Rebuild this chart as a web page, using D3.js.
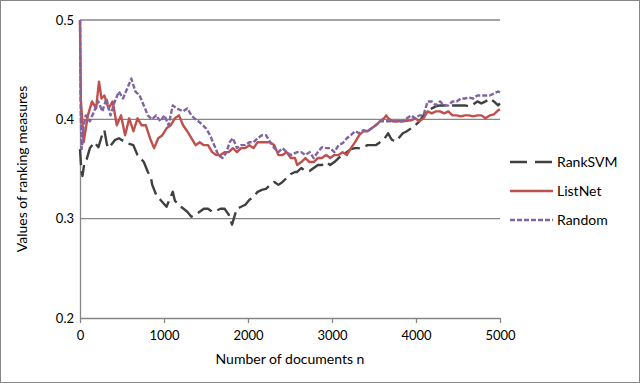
<!DOCTYPE html>
<html>
<head>
<meta charset="utf-8">
<script src="https://cdn.jsdelivr.net/npm/d3@7"></script>
<style>
  body { margin: 0; background: #fff; }
  svg { display: block; font-family: Lato, "Open Sans", sans-serif; }
</style>
</head>
<body>
<svg width="640" height="383"></svg>
<script>
// values
const rankDocs = [0,15,30,50,80,118,170,220,266,290,320,340,414,463,560,635,685,760,808,845,860,907,956,1030,1104,1130,1203,1277,1326,1376,1425,1474,1524,1573,1622,1672,1721,1770,1810,1845,1869,1918,1968,2017,2066,2115,2165,2214,2263,2313,2362,2411,2460,2510,2560,2585,2634,2683,2733,2782,2831,2880,2930,2979,3028,3078,3127,3176,3225,3275,3324,3373,3423,3472,3521,3571,3620,3669,3700,3719,3768,3793,3843,3892,3941,3990,4040,4089,4138,4188,4237,4286,4336,4385,4434,4484,4533,4582,4631,4681,4730,4779,4828,4878,4927,4977,5000];
const rankVals = [0.37,0.35,0.343,0.355,0.36,0.371,0.377,0.372,0.385,0.389,0.375,0.371,0.379,0.381,0.376,0.374,0.364,0.357,0.347,0.341,0.334,0.324,0.319,0.312,0.327,0.318,0.312,0.307,0.302,0.304,0.307,0.31,0.31,0.307,0.308,0.31,0.31,0.304,0.294,0.304,0.31,0.312,0.314,0.319,0.322,0.327,0.329,0.33,0.334,0.337,0.334,0.337,0.341,0.345,0.347,0.347,0.351,0.348,0.348,0.351,0.354,0.354,0.357,0.354,0.357,0.361,0.364,0.367,0.37,0.371,0.371,0.372,0.374,0.374,0.374,0.377,0.38,0.386,0.381,0.379,0.378,0.381,0.386,0.388,0.391,0.394,0.398,0.404,0.408,0.411,0.413,0.414,0.414,0.414,0.414,0.414,0.414,0.414,0.413,0.415,0.418,0.416,0.418,0.421,0.418,0.414,0.416];

const listDocs = [0,10,44,94,143,192,226,256,290,340,389,438,488,537,586,636,685,734,784,833,882,931,981,1030,1079,1129,1178,1227,1277,1326,1376,1425,1474,1524,1573,1622,1672,1721,1770,1820,1869,1918,1968,2017,2066,2115,2165,2214,2263,2313,2362,2411,2460,2510,2560,2585,2634,2683,2733,2782,2831,2880,2930,2979,3028,3078,3127,3176,3225,3275,3324,3373,3423,3472,3521,3571,3620,3645,3669,3719,3768,3843,3941,3990,4040,4089,4138,4188,4237,4286,4336,4385,4434,4484,4533,4582,4631,4681,4730,4779,4828,4878,4927,4977,5000];
const listVals = [0.5,0.42,0.377,0.404,0.418,0.411,0.438,0.421,0.424,0.411,0.418,0.394,0.404,0.384,0.401,0.388,0.401,0.394,0.394,0.381,0.371,0.381,0.384,0.391,0.394,0.401,0.404,0.394,0.388,0.381,0.374,0.377,0.374,0.374,0.367,0.364,0.364,0.367,0.367,0.371,0.367,0.371,0.371,0.374,0.371,0.377,0.377,0.377,0.377,0.374,0.364,0.364,0.367,0.361,0.361,0.354,0.357,0.361,0.357,0.357,0.361,0.361,0.364,0.361,0.364,0.364,0.367,0.364,0.371,0.377,0.384,0.388,0.388,0.391,0.394,0.398,0.401,0.404,0.401,0.398,0.398,0.398,0.399,0.401,0.398,0.401,0.408,0.406,0.408,0.408,0.406,0.408,0.404,0.404,0.403,0.404,0.404,0.403,0.404,0.404,0.401,0.404,0.405,0.409,0.41];

const randDocs = [0,10,20,44,69,118,167,217,266,315,364,414,463,512,562,611,660,710,759,808,857,907,956,1005,1055,1104,1153,1227,1277,1326,1376,1425,1500,1548,1598,1647,1696,1746,1780,1820,1869,1918,1968,2017,2066,2115,2165,2214,2263,2313,2362,2411,2460,2510,2560,2585,2634,2683,2733,2782,2831,2880,2930,2979,3028,3078,3127,3176,3225,3275,3324,3373,3423,3472,3521,3571,3669,3768,3843,3892,3941,3990,4040,4089,4138,4188,4237,4286,4336,4385,4434,4484,4533,4582,4631,4681,4730,4779,4828,4878,4927,4977,5000];
const randVals = [0.5,0.4,0.37,0.394,0.404,0.398,0.408,0.418,0.408,0.421,0.404,0.418,0.428,0.421,0.431,0.441,0.428,0.424,0.414,0.404,0.4,0.404,0.398,0.404,0.394,0.414,0.411,0.408,0.411,0.404,0.4,0.397,0.391,0.384,0.374,0.364,0.361,0.367,0.377,0.381,0.371,0.374,0.374,0.377,0.377,0.381,0.384,0.384,0.377,0.371,0.367,0.371,0.367,0.364,0.366,0.367,0.367,0.364,0.367,0.361,0.367,0.372,0.371,0.371,0.367,0.374,0.376,0.381,0.384,0.388,0.386,0.389,0.388,0.391,0.394,0.398,0.398,0.398,0.398,0.401,0.404,0.401,0.404,0.404,0.418,0.418,0.414,0.418,0.414,0.414,0.418,0.418,0.421,0.421,0.422,0.421,0.424,0.424,0.424,0.424,0.426,0.428,0.427];

const xTicks = [0, 1000, 2000, 3000, 4000, 5000];
const yTicks = [0.2, 0.3, 0.4, 0.5];

const series = [
  {name: "RankSVM", docs: rankDocs, vals: rankVals, color: "#404040", dash: "16,6"},
  {name: "ListNet", docs: listDocs, vals: listVals, color: "#c0504d", dash: null},
  {name: "Random", docs: randDocs, vals: randVals, color: "#8064a2", dash: "5,2"}
];

const svg = d3.select("svg"),
    width = +svg.attr("width"),
    height = +svg.attr("height");

const plot = {left: 80, right: 500, top: 20, bottom: 318};

const x = d3.scaleLinear().domain([0, 5000]).range([plot.left, plot.right]);
const y = d3.scaleLinear().domain([0.2, 0.5]).range([plot.bottom, plot.top]);

// outer border
svg.append("rect")
    .attr("x", 0.5).attr("y", 0.5)
    .attr("width", width - 1).attr("height", height - 1)
    .attr("fill", "#fff")
    .attr("stroke", "#868686");

// gridlines
svg.append("g")
    .selectAll("line")
    .data(yTicks.filter(d => d > 0.2))
    .enter().append("line")
    .attr("x1", plot.left).attr("x2", plot.right)
    .attr("y1", d => y(d)).attr("y2", d => y(d))
    .attr("stroke", "#868686")
    .attr("stroke-width", 1.3);

// x axis
const xAxis = svg.append("g")
    .attr("transform", "translate(0," + plot.bottom + ")")
    .call(d3.axisBottom(x).tickValues(xTicks).tickFormat(d3.format("d"))
        .tickSize(5).tickSizeOuter(0).tickPadding(8));
xAxis.select(".domain").attr("stroke", "#868686").attr("stroke-width", 1.3);
xAxis.selectAll(".tick line").attr("stroke", "#868686").attr("stroke-width", 1.3);
xAxis.selectAll("text").attr("font-size", 13).attr("fill", "#000").attr("font-family", "Lato, sans-serif");

// y axis
const yAxis = svg.append("g")
    .attr("transform", "translate(" + plot.left + ",0)")
    .call(d3.axisLeft(y).tickValues(yTicks).tickFormat(d3.format(".1f")).tickSize(0).tickPadding(6));
yAxis.select(".domain").attr("stroke", "#868686").attr("stroke-width", 1.3);
yAxis.selectAll("text").attr("font-size", 13).attr("fill", "#000").attr("font-family", "Lato, sans-serif");

// axis titles
svg.append("text")
    .attr("x", (plot.left + plot.right) / 2)
    .attr("y", 364)
    .attr("text-anchor", "middle")
    .attr("font-size", 14)
    .text("Number of documents n");

svg.append("text")
    .attr("transform", "translate(27," + (plot.top + plot.bottom) / 2 + ") rotate(-90)")
    .attr("text-anchor", "middle")
    .attr("font-size", 14)
    .text("Values of ranking measures");

// series lines
const line = d3.line()
    .x(d => x(d[0]))
    .y(d => y(d[1]));

svg.append("g")
    .selectAll("path")
    .data(series)
    .enter().append("path")
    .attr("d", s => line(s.docs.map((n, i) => [n, s.vals[i]])))
    .attr("fill", "none")
    .attr("stroke", s => s.color)
    .attr("stroke-width", 2.4)
    .attr("stroke-dasharray", s => s.dash)
    .attr("stroke-linejoin", "round");

// legend
const legend = svg.append("g")
    .attr("transform", "translate(510,162)")
    .selectAll("g")
    .data(series)
    .enter().append("g")
    .attr("transform", (d, i) => "translate(0," + (i * 29) + ")");

legend.append("line")
    .attr("x1", 0).attr("x2", 43)
    .attr("stroke", d => d.color)
    .attr("stroke-width", 2.6)
    .attr("stroke-dasharray", d => d.dash === "16,6" ? "17,8" : d.dash);

legend.append("text")
    .attr("x", 47)
    .attr("dy", "0.35em")
    .attr("font-size", 14)
    .text(d => d.name);
</script>
</body>
</html>
